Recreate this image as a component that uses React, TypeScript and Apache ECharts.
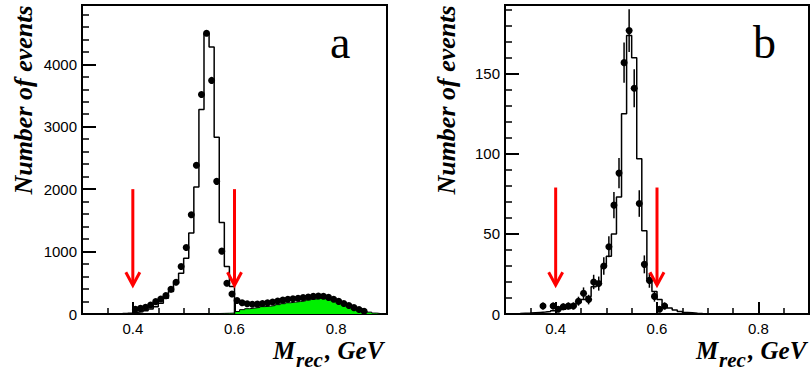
import React, { useEffect, useRef } from "react";
import * as echarts from "echarts";

// ---------- data ----------
const BIN = 0.01;
const xMin = 0.3;
const xMax = 0.9;
const xMajor = [0.4, 0.6, 0.8];
const xMinor = [0.35, 0.45, 0.5, 0.55, 0.65, 0.7, 0.75, 0.85];

// Panel a
const mcStartA = 0.3;
const mcSignalA = [0, 1, 2, 3, 4, 5, 6, 8, 12, 18, 27, 37, 53, 80, 118, 171, 252, 359, 493, 653, 894, 1296, 2035, 3276, 4490, 4277, 2830, 1466, 760, 439];
const bkgStartA = 0.55;
const mcBkgA = [5, 8, 10, 12, 15, 40, 70, 85, 95, 105, 118, 125, 135, 150, 165, 180, 190, 200, 210, 225, 240, 250, 250, 240, 215, 190, 160, 130, 100, 70, 45, 30, 15, 5];
const dataXA = [0.405, 0.415, 0.425, 0.435, 0.445, 0.455, 0.465, 0.475, 0.485, 0.495, 0.505, 0.515, 0.525, 0.535, 0.545, 0.555, 0.565, 0.575, 0.585, 0.595, 0.605, 0.615, 0.625, 0.635, 0.645, 0.655, 0.665, 0.675, 0.685, 0.695, 0.705, 0.715, 0.725, 0.735, 0.745, 0.755, 0.765, 0.775, 0.785, 0.795, 0.805, 0.815, 0.825, 0.835, 0.845, 0.855];
const dataYA = [75, 90, 107, 145, 198, 241, 294, 396, 509, 760, 1065, 1590, 2382, 3517, 4497, 3742, 2125, 1007, 493, 321, 215, 180, 165, 155, 158, 168, 178, 192, 207, 222, 236, 243, 252, 262, 272, 282, 288, 284, 266, 236, 202, 167, 135, 102, 72, 45];
const yMaxA = 4950;
const yMajorA = [0, 1000, 2000, 3000, 4000];
const yMinorA = [200, 400, 600, 800, 1200, 1400, 1600, 1800, 2200, 2400, 2600, 2800, 3200, 3400, 3600, 3800, 4200, 4400, 4600, 4800];
const arrowXA = [0.4, 0.6];
const arrowTopA = 2000;
const arrowTipA = 460;

// Panel b
const mcStartB = 0.3;
const mcSignalB = [0, 0.2, 0.3, 0.5, 0.6, 0.8, 1, 1.2, 1.5, 2, 2.5, 3, 3.5, 4.5, 7, 9, 11, 17, 20, 30, 36, 50, 73, 125, 174, 160, 97, 52, 22, 14, 9, 5.5, 3.7, 2.5, 1.5, 1, 0.8, 0.5, 0.3, 0.2];
const dataXB = [0.375, 0.395, 0.405, 0.415, 0.425, 0.435, 0.445, 0.455, 0.465, 0.475, 0.485, 0.495, 0.505, 0.515, 0.525, 0.535, 0.545, 0.555, 0.565, 0.575, 0.585, 0.595, 0.605, 0.615];
const dataYB = [5, 5, 3, 4.5, 5, 5, 8, 13, 9, 20, 19, 30, 42, 68, 88, 157, 177, 141, 69, 31, 21, 11, 3, 5];
const errYB = [2.2, 2.2, 1.7, 2.1, 2.2, 2.2, 2.8, 3.6, 3, 4.5, 4.4, 5.5, 6.5, 8.2, 9.4, 12.5, 13.3, 11.9, 8.3, 5.6, 4.6, 3.3, 1.7, 2.2];
const yMaxB = 193;
const yMajorB = [0, 50, 100, 150];
const yMinorB = [10, 20, 30, 40, 60, 70, 80, 90, 110, 120, 130, 140, 160, 170, 180, 190];
const arrowXB = [0.4, 0.6];
const arrowTopB = 79;
const arrowTipB = 18;

// ---------- helpers ----------
const stepData = (start: number, vals: number[]) => {
  const pts = vals.map((v, i) => [+(start + i * BIN).toFixed(3), v]);
  pts.push([+(start + vals.length * BIN).toFixed(3), 0]);
  return pts;
};

const LABEL_FONT = "Liberation Sans";
const TITLE_FONT = "Liberation Serif";

function axesFor(g: number, yMax: number, yMajor: number[], yMinor: number[]) {
  const lbl = { color: "#000", fontFamily: LABEL_FONT, fontSize: 15 };
  const xMainAxis = {
    type: "value", gridIndex: g, min: xMin, max: xMax, position: "bottom",
    axisLine: { show: true, onZero: false, lineStyle: { color: "#000", width: 2 } },
    axisTick: { show: true, inside: true, length: 12, customValues: xMajor, lineStyle: { color: "#000", width: 2 } },
    axisLabel: { show: true, customValues: xMajor, margin: 7, formatter: (v: number) => v.toFixed(1), ...lbl },
    splitLine: { show: false },
  };
  const xMinorAxis = {
    type: "value", gridIndex: g, min: xMin, max: xMax, position: "bottom",
    axisLine: { show: false, onZero: false },
    axisTick: { show: true, inside: true, length: 6, customValues: xMinor, lineStyle: { color: "#000", width: 1.5 } },
    axisLabel: { show: false },
    splitLine: { show: false },
  };
  const yMainAxis = {
    type: "value", gridIndex: g, min: 0, max: yMax, position: "left",
    axisLine: { show: true, onZero: false, lineStyle: { color: "#000", width: 2 } },
    axisTick: { show: true, inside: true, length: 14, customValues: yMajor, lineStyle: { color: "#000", width: 2 } },
    axisLabel: { show: true, customValues: yMajor, margin: 5, formatter: (v: number) => String(v), ...lbl },
    splitLine: { show: false },
  };
  const yMinorAxis = {
    type: "value", gridIndex: g, min: 0, max: yMax, position: "left",
    axisLine: { show: false, onZero: false },
    axisTick: { show: true, inside: true, length: 7, customValues: yMinor, lineStyle: { color: "#000", width: 1.5 } },
    axisLabel: { show: false },
    splitLine: { show: false },
  };
  return { x: [xMainAxis, xMinorAxis], y: [yMainAxis, yMinorAxis] };
}

const arrowRender = (params: any, api: any) => {
  const top = api.coord([api.value(0), api.value(1)]);
  const tip = api.coord([api.value(0), api.value(2)]);
  return {
    type: "group",
    children: [
      { type: "line", shape: { x1: top[0], y1: top[1], x2: tip[0], y2: tip[1] - 1 }, style: { stroke: "#ff0000", lineWidth: 3 } },
      {
        type: "polyline",
        shape: { points: [[tip[0] - 7, tip[1] - 13], [tip[0], tip[1]], [tip[0] + 7, tip[1] - 13]] },
        style: { stroke: "#ff0000", lineWidth: 3, fill: "none" },
      },
    ],
  };
};

const errRender = (params: any, api: any) => {
  const x = api.value(0), y = api.value(1), e = api.value(2);
  const lo = api.coord([x, y - e]);
  const hi = api.coord([x, y + e]);
  return { type: "line", shape: { x1: lo[0], y1: lo[1], x2: hi[0], y2: hi[1] }, style: { stroke: "#000", lineWidth: 1.5 } };
};

function titleTexts(dx: number) {
  const base = { fontFamily: TITLE_FONT, fontStyle: "italic", fontWeight: "bold", fill: "#000" };
  return [
    {
      type: "text", x: 23 + dx, y: 100, rotation: Math.PI / 2,
      style: { ...base, text: "Number of events", fontSize: 26, lineHeight: 20, align: "center", verticalAlign: "middle" },
    },
    { type: "text", x: 273 + dx, y: 350, style: { ...base, text: "M", fontSize: 25, lineHeight: 18, align: "left", verticalAlign: "middle" } },
    { type: "text", x: 296 + dx, y: 360, style: { ...base, text: "rec", fontSize: 21, lineHeight: 15, align: "left", verticalAlign: "middle" } },
    { type: "text", x: 325 + dx, y: 350, style: { ...base, text: ", GeV", fontSize: 25, lineHeight: 18, align: "left", verticalAlign: "middle" } },
  ];
}

export default function App() {
  const ref = useRef<HTMLDivElement>(null);
  useEffect(() => {
    if (!ref.current) return;
    const chart = echarts.init(ref.current, undefined, { renderer: "svg" });
    const a = axesFor(0, yMaxA, yMajorA, yMinorA);
    const b = axesFor(1, yMaxB, yMajorB, yMinorB);
    const option: any = {
      animation: false,
      backgroundColor: "#fff",
      grid: [
        { left: 82, top: 5, width: 305, height: 309, show: true, borderColor: "#000", borderWidth: 2, backgroundColor: "transparent" },
        { left: 505, top: 5, width: 304, height: 309, show: true, borderColor: "#000", borderWidth: 2, backgroundColor: "transparent" },
      ],
      xAxis: [...a.x, ...b.x],
      yAxis: [...a.y, ...b.y],
      series: [
        // panel a
        {
          type: "line", xAxisIndex: 0, yAxisIndex: 0, step: "end", symbol: "none", z: 1,
          data: stepData(bkgStartA, mcBkgA),
          lineStyle: { color: "#000", width: 1 },
          areaStyle: { color: "#00f000", opacity: 1 },
        },
        {
          type: "line", xAxisIndex: 0, yAxisIndex: 0, step: "end", symbol: "none", z: 2,
          data: stepData(mcStartA, mcSignalA),
          lineStyle: { color: "#000", width: 1.5 },
        },
        {
          type: "scatter", xAxisIndex: 0, yAxisIndex: 0, symbol: "circle", symbolSize: 7, z: 3,
          data: dataXA.map((x, i) => [x, dataYA[i]]),
          itemStyle: { color: "#000", opacity: 1 },
        },
        {
          type: "custom", xAxisIndex: 0, yAxisIndex: 0, z: 4, renderItem: arrowRender,
          encode: { x: 0, y: [1, 2] },
          data: arrowXA.map((x) => [x, arrowTopA, arrowTipA]),
        },
        // panel b
        {
          type: "line", xAxisIndex: 2, yAxisIndex: 2, step: "end", symbol: "none", z: 2,
          data: stepData(mcStartB, mcSignalB),
          lineStyle: { color: "#000", width: 1.5 },
        },
        {
          type: "custom", xAxisIndex: 2, yAxisIndex: 2, z: 3, renderItem: errRender,
          encode: { x: 0, y: 1 },
          data: dataXB.map((x, i) => [x, dataYB[i], errYB[i]]),
        },
        {
          type: "scatter", xAxisIndex: 2, yAxisIndex: 2, symbol: "circle", symbolSize: 7, z: 3,
          data: dataXB.map((x, i) => [x, dataYB[i]]),
          itemStyle: { color: "#000", opacity: 1 },
        },
        {
          type: "custom", xAxisIndex: 2, yAxisIndex: 2, z: 4, renderItem: arrowRender,
          encode: { x: 0, y: [1, 2] },
          data: arrowXB.map((x) => [x, arrowTopB, arrowTipB]),
        },
      ],
      graphic: [
        ...titleTexts(0),
        ...titleTexts(423),
        { type: "text", x: 330, y: 42, style: { text: "a", fontFamily: TITLE_FONT, fontSize: 46, fill: "#000", align: "left", verticalAlign: "middle" } },
        { type: "text", x: 753, y: 42, style: { text: "b", fontFamily: TITLE_FONT, fontSize: 46, fill: "#000", align: "left", verticalAlign: "middle" } },
      ],
    };
    chart.setOption(option);
    return () => chart.dispose();
  }, []);
  return <div ref={ref} style={{ position: "fixed", left: 0, top: 0, width: 810, height: 371, background: "#fff" }} />;
}
